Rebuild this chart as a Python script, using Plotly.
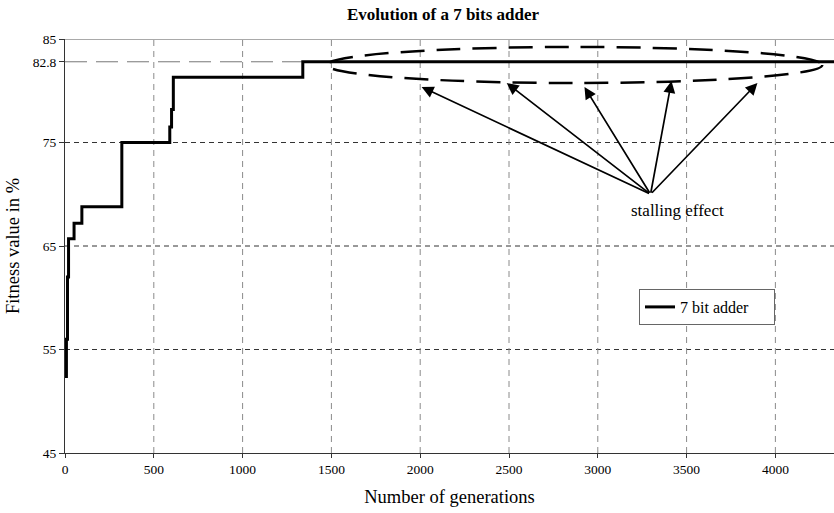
import plotly.graph_objects as go

# Step data: generation at which fitness changes, and fitness value
generations = [0, 8, 14, 20, 51, 95, 320, 590, 600, 610, 1339, 4330]
fitness = [52.4, 56.0, 62.0, 65.7, 67.2, 68.8, 75.0, 76.5, 78.2, 81.3, 82.8, 82.8]

x_ticks = [0, 500, 1000, 1500, 2000, 2500, 3000, 3500, 4000]
y_ticks = [45, 55, 65, 75, 82.8, 85]
y_tick_text = ["45", "55", "65", "75", "82.8", "85"]
h_grid = [55, 65, 75]
v_grid = [500, 1000, 1500, 2000, 2500, 3000, 3500, 4000]
best_level = 82.8

# annotation geometry (data coords)
ellipse_box = [1474, 80.75, 4264, 84.23]
arrow_tail = (3297, 70.0)
arrow_heads = [(2008, 80.36), (2487, 80.75), (2925, 80.36), (3415, 80.94), (3899, 80.75)]
label_pos = (3449, 68.4)

FONT = "Liberation Serif"

fig = go.Figure()
fig.add_trace(go.Scatter(
    x=generations, y=fitness, mode="lines", line_shape="hv",
    line=dict(color="black", width=3), name="7 bit adder"))

shapes = []
for v in v_grid:
    shapes.append(dict(type="line", xref="x", yref="y", x0=v, x1=v, y0=45, y1=85,
                       line=dict(color="#8a8a8a", width=1, dash="6px,5px"), layer="below"))
for h in h_grid:
    shapes.append(dict(type="line", xref="paper", yref="y", x0=0, x1=1, y0=h, y1=h,
                       line=dict(color="#333333", width=1, dash="5px,4px"), layer="below"))
shapes.append(dict(type="line", xref="paper", yref="y", x0=0, x1=1, y0=best_level, y1=best_level,
                   line=dict(color="#777777", width=1, dash="22px,9px"), layer="below"))
shapes.append(dict(type="line", xref="paper", yref="y", x0=0, x1=1, y0=85, y1=85,
                   line=dict(color="#555555", width=1)))
shapes.append(dict(type="circle", xref="x", yref="y",
                   x0=ellipse_box[0], y0=ellipse_box[1], x1=ellipse_box[2], y1=ellipse_box[3],
                   line=dict(color="black", width=2.5, dash="24px,12px")))

annotations = []
for hx, hy in arrow_heads:
    annotations.append(dict(x=hx, y=hy, ax=arrow_tail[0], ay=arrow_tail[1],
                            xref="x", yref="y", axref="x", ayref="y", text="",
                            showarrow=True, arrowhead=2, arrowsize=1.4, arrowwidth=1.7,
                            arrowcolor="black"))
annotations.append(dict(x=label_pos[0], y=label_pos[1], xref="x", yref="y",
                        text="stalling effect", showarrow=False,
                        font=dict(family=FONT, size=17, color="black")))

fig.update_layout(
    width=834, height=513,
    margin=dict(l=65, r=0, t=39, b=60),
    paper_bgcolor="white", plot_bgcolor="white",
    title=dict(text="<b>Evolution of a 7 bits adder</b>", x=443/834, xanchor="center",
               y=1 - 14/513, yanchor="middle", yref="container",
               font=dict(family=FONT, size=17, color="black")),
    font=dict(family=FONT, color="black"),
    shapes=shapes, annotations=annotations,
    showlegend=True,
    legend=dict(x=(639-65)/769, y=(453-289)/414, xanchor="left", yanchor="top",
                orientation="h",
                bgcolor="white", bordercolor="#666666", borderwidth=1,
                font=dict(family=FONT, size=16, color="black"),
                itemwidth=30, tracegroupgap=0, entrywidth=89, entrywidthmode="pixels"),
    xaxis=dict(range=[0, 4330], tickvals=x_ticks, showgrid=False, zeroline=False,
               showline=True, linecolor="#333333", linewidth=1,
               ticks="outside", ticklen=4, tickcolor="#333333",
               tickfont=dict(family=FONT, size=13.5, color="black"),
               title=dict(text="Number of generations", standoff=13,
                          font=dict(family=FONT, size=18.5, color="black"))),
    yaxis=dict(range=[45, 85], tickvals=y_ticks, ticktext=y_tick_text, showgrid=False,
               zeroline=False, showline=True, linecolor="#333333", linewidth=1,
               ticks="outside", ticklen=5, tickcolor="#333333",
               tickfont=dict(family=FONT, size=13.5, color="black"),
               title=dict(text="Fitness value in %", standoff=8,
                          font=dict(family=FONT, size=18.5, color="black"))),
)

fig.write_html("out.html")
